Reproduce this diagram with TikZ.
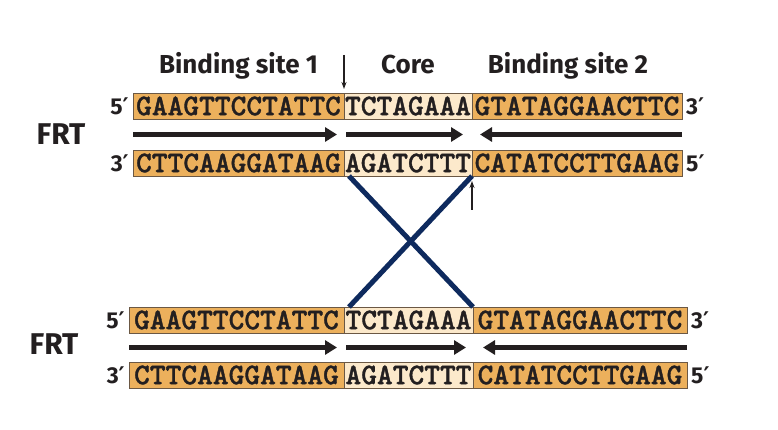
\documentclass[tikz,border=0pt]{standalone}
\usepackage{fontspec}
\setmainfont{Fira Sans}
\newfontfamily\seqfont{lmmonolt10-bold.otf}[FakeBold=1.2]
\newfontfamily\primefont{DejaVu Sans}
\definecolor{mOrange}{HTML}{ECB05C}
\definecolor{mCore}{HTML}{FCE9CB}
\definecolor{mEdge}{HTML}{6B5844}
\definecolor{mInk}{HTML}{231F20}
\definecolor{mNavy}{HTML}{0E2A5E}
\usetikzlibrary{positioning,arrows.meta,calc}
\tikzset{
 seg/.style={draw=mEdge, line width=0.7pt, minimum height=26pt, inner sep=0pt, outer sep=0pt, anchor=west, text=mInk, font=\seqfont\fontsize{30}{30}\selectfont},
 endlab/.style={font=\bfseries\fontsize{23}{23}\selectfont, text=mInk, inner sep=0pt},
 head/.style={font=\bfseries\fontsize{26}{26}\selectfont, text=mInk, inner sep=0pt, anchor=base},
 frt/.style={font=\bfseries\fontsize{30}{30}\selectfont, text=mInk, inner sep=0pt},
 dsarrow/.style={line width=5pt, mInk, -{Triangle[length=12pt,width=14pt]}},
 cut/.style={mInk, line width=1.3pt, -{Stealth[length=7pt,width=5pt]}},
 cross/.style={mNavy, line width=5pt},
}
\newcommand{\pr}{{\primefont\bfseries ′}}
\newcommand{\seqrow}[9]{%
 \node[seg, fill=mOrange, minimum width=#4pt] (#2a) at (#3,#1) {#7};%
 \node[seg, fill=mCore, minimum width=#5pt, right=0pt of #2a] (#2c) {#8};%
 \node[seg, fill=mOrange, minimum width=#6pt, right=0pt of #2c] (#2b) {#9};}

\begin{document}
\begin{tikzpicture}[x=1pt,y=-1pt]
\useasboundingbox (0,0) rectangle (778,430);
\seqrow{106}{tf}{133}{211}{128}{210}{GAAGTTCCTATTC}{TCTAGAAA}{GTATAGGAACTTC}
\seqrow{163}{tr}{133}{211}{128}{210}{CTTCAAGGATAAG}{AGATCTTT}{CATATCCTTGAAG}
\seqrow{320}{bf}{129}{215}{129}{214}{GAAGTTCCTATTC}{TCTAGAAA}{GTATAGGAACTTC}
\seqrow{375}{br}{129}{215}{129}{214}{CTTCAAGGATAAG}{AGATCTTT}{CATATCCTTGAAG}
\node[endlab, left=4pt of tfa] (tf5) {5\pr};
\node[endlab, right=4pt of tfb] (tf3) {3\pr};
\node[endlab, left=4pt of tra] (tr3) {3\pr};
\node[endlab, right=4pt of trb] (tr5) {5\pr};
\node[endlab, left=4pt of bfa] (bf5) {5\pr};
\node[endlab, right=4pt of bfb] (bf3) {3\pr};
\node[endlab, left=4pt of bra] (br3) {3\pr};
\node[endlab, right=4pt of brb] (br5) {5\pr};
\node[head] (bs1) at ($(tfa.north)+(0,-19)$) {Binding site 1};
\node[head] (core) at ($(tfc.north)+(0,-19)$) {Core};
\node[head] (bs2) at ($(tfb.north)+(-9,-19)$) {Binding site 2};
\coordinate (ta1) at ($(tfa.south west)!.5!(tra.north west)$);
\coordinate (ta2) at ($(tfa.south east)!.5!(tra.north east)$);
\coordinate (ta3) at ($(tfc.south east)!.5!(trc.north east)$);
\coordinate (ta4) at ($(tfb.south east)!.5!(trb.north east)$);
\coordinate (ba1) at ($(bfa.south west)!.5!(bra.north west)$);
\coordinate (ba2) at ($(bfa.south east)!.5!(bra.north east)$);
\coordinate (ba3) at ($(bfc.south east)!.5!(brc.north east)$);
\coordinate (ba4) at ($(bfb.south east)!.5!(brb.north east)$);
\draw[dsarrow] (ta1) -- ([xshift=-7pt]ta2);
\draw[dsarrow] ([xshift=2pt]ta2) -- ([xshift=-9pt]ta3);
\draw[dsarrow] (ta4) -- ([xshift=8pt]ta3);
\draw[dsarrow] (ba1) -- ([xshift=-7pt]ba2);
\draw[dsarrow] ([xshift=2pt]ba2) -- ([xshift=-7pt]ba3);
\draw[dsarrow] (ba4) -- ([xshift=10pt]ba3);
\node[frt] (frt1) at ($(ta1)+(-72,0)$) {FRT};
\node[frt] (frt2) at ($(ba1)+(-75,-3)$) {FRT};
\coordinate (cutA) at ($(tfa.north east)+(0,-38)$);
\coordinate (cutB) at ($(trc.south east)+(0,34)$);
\draw[cut] (cutA) -- ([yshift=4pt]tfa.north east);
\draw[cut] (cutB) -- ([yshift=-5pt]trc.south east);
\draw[cross] ([xshift=5pt]trc.south west) -- (bfc.north east);
\draw[cross] (trc.south east) -- ([xshift=5pt]bfc.north west);
\end{tikzpicture}
\end{document}
